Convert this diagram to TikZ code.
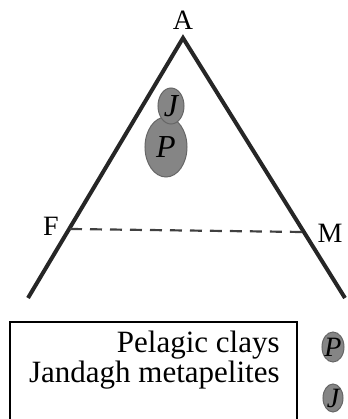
\documentclass[tikz,border=0pt]{standalone}
\usepackage{fontspec}
\setmainfont{Liberation Serif}
\usetikzlibrary{positioning}

\begin{document}
\begin{tikzpicture}[
        x=0.5pt, y=0.5pt,
        side/.style={line width=2pt, draw=black!85},
        blob/.style={draw=black!60, fill=black!48, line width=0.5pt},
        blobtext/.style={font=\fontsize{16}{18}\selectfont\itshape},
        lbl/.style={font=\fontsize{14}{16}\selectfont}
    ]
        \clip (0,0) rectangle (348,419);
        \useasboundingbox (0,0) rectangle (348,419);

        % triangle corners and the F--M line
        \coordinate (apex)  at (183,381);
        \coordinate (left)  at (28,121);
        \coordinate (right) at (345,121);
        \coordinate (fpt)   at (70,190);
        \coordinate (mpt)   at (303,187);

        \draw[side, line join=miter] (left) -- (apex) -- (right);
        \draw[line width=1.1pt, draw=black!75, dash pattern=on 6pt off 4pt] (fpt) -- (mpt);

        \node[lbl] (a) at (183,399) {A};
        \node[lbl] (f) at (51,193)  {F};
        \node[lbl] (m) at (330,186) {M};

        % compositions
        \draw[blob] (166,272) ellipse (21 and 30);
        \node[blobtext] (p) at (166,272) {P};
        \draw[blob] (171,313) ellipse (13 and 18);
        \node[blobtext] (j) at (171,313) {J};

        % legend
        \draw[line width=0.8pt] (10,-10) rectangle (297,97);
        \node[lbl, font=\fontsize{15.5}{13}\selectfont, align=right, anchor=east,
              inner sep=0pt] (key) at (280,59)
            {Pelagic clays\\Jandagh metapelites};
        \draw[blob] (333,72) ellipse (11 and 15);
        \node[blobtext, font=\fontsize{14}{16}\selectfont\itshape] (lp) at (333,72) {P};
        \draw[blob] (333,21) ellipse (10 and 14);
        \node[blobtext, font=\fontsize{14}{16}\selectfont\itshape] (lj) at (333,21) {J};
    \end{tikzpicture}
\end{document}
